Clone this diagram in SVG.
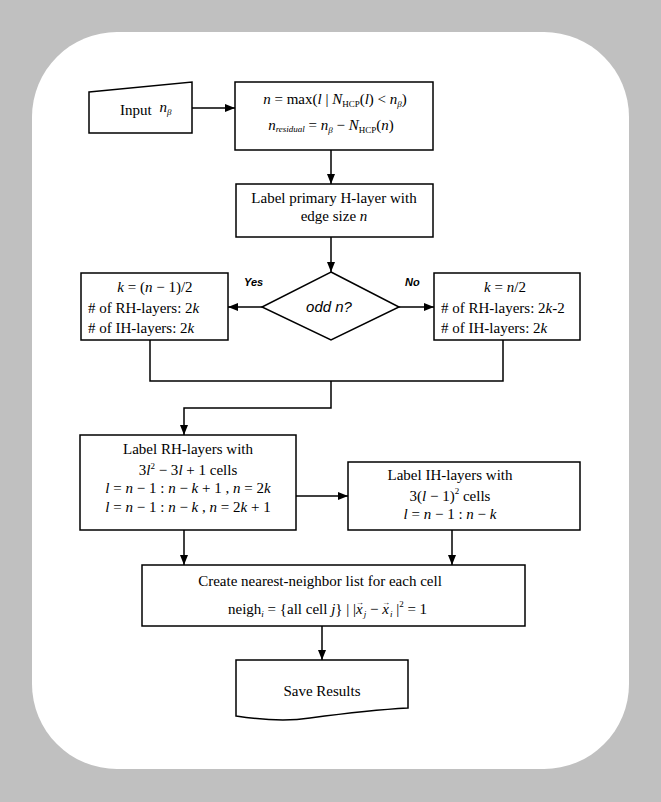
<svg xmlns="http://www.w3.org/2000/svg" width="661" height="802" viewBox="0 0 661 802">
<defs>
<marker id="ah" viewBox="0 0 10 8" refX="10" refY="4" markerWidth="10" markerHeight="8" markerUnits="userSpaceOnUse" orient="auto"><path d="M0,0 L10,4 L0,8 z" fill="#000"/></marker>
<style>
.box{fill:#fff;stroke:#000;stroke-width:1.5}
.t{font-family:"Liberation Serif","Times New Roman",serif;font-size:15px;fill:#000}
.i{font-style:italic}
.s{font-size:9px}
.v{font-size:8px;font-style:normal}
.lbl{font-family:"Liberation Sans",Arial,sans-serif;font-size:11px;font-weight:bold;font-style:italic;fill:#000}
.c{fill:none;stroke:#000;stroke-width:1.5}
</style>
</defs>
<rect x="0" y="0" width="661" height="802" fill="#c0c0c0"/>
<rect x="32" y="32" width="597" height="737" rx="85" ry="85" fill="#fff"/>

<g id="connectors">
<path class="c" d="M192,108 H235" marker-end="url(#ah)"/>
<path class="c" d="M331,150 V184" marker-end="url(#ah)"/>
<path class="c" d="M331,237 V272" marker-end="url(#ah)"/>
<path class="c" d="M262,307 H228" marker-end="url(#ah)"/>
<path class="c" d="M399,307 H434" marker-end="url(#ah)"/>
<path class="c" d="M150,340 V381 H503 V340"/>
<path class="c" d="M331,381 V408 H184 V435" marker-end="url(#ah)"/>
<path class="c" d="M296,496 H348" marker-end="url(#ah)"/>
<path class="c" d="M184,530 V565" marker-end="url(#ah)"/>
<path class="c" d="M452,530 V565" marker-end="url(#ah)"/>
<path class="c" d="M322,626 V660" marker-end="url(#ah)"/>
<text class="lbl" x="244" y="286">Yes</text>
<text class="lbl" x="405" y="286">No</text>
</g>

<g id="input">
<polygon class="box" points="89,92 192,82 192,133 89,133"/>
<text class="t" x="120" y="115" font-size="16">Input <tspan class="i" dx="4" dy="-3">n</tspan><tspan class="s i" dy="3">β</tspan></text>
</g>

<g id="compute-n">
<rect class="box" x="235" y="82" width="198" height="68"/>
<text class="t" x="335" y="104" text-anchor="middle"><tspan class="i">n</tspan> = max(<tspan class="i">l</tspan> | <tspan class="i">N</tspan><tspan class="s" dy="3">HCP</tspan><tspan dy="-3">(</tspan><tspan class="i">l</tspan>) &lt; <tspan class="i">n</tspan><tspan class="s i" dy="3">β</tspan><tspan dy="-3">)</tspan></text>
<text class="t" x="331" y="130" text-anchor="middle"><tspan class="i">n</tspan><tspan class="s i" dy="2">residual</tspan><tspan dy="-2"> = </tspan><tspan class="i">n</tspan><tspan class="s i" dy="3">β</tspan><tspan dy="-3"> − </tspan><tspan class="i">N</tspan><tspan class="s" dy="3">HCP</tspan><tspan dy="-3">(</tspan><tspan class="i">n</tspan>)</text>
</g>

<g id="label-primary">
<rect class="box" x="236" y="184" width="197" height="53"/>
<text class="t" x="334" y="203" text-anchor="middle">Label primary H-layer with</text>
<text class="t" x="334" y="221" text-anchor="middle">edge size <tspan class="i">n</tspan></text>
</g>

<g id="decision">
<polygon class="box" points="331,272 399,307 331,340 262,307"/>
<text x="329" y="312" text-anchor="middle" font-family="Liberation Sans, Arial, sans-serif" font-size="15" font-style="italic">odd n?</text>
</g>

<g id="odd-branch">
<rect class="box" x="81" y="273" width="147" height="67"/>
<text class="t" x="155" y="292" text-anchor="middle"><tspan class="i">k</tspan> = (<tspan class="i">n</tspan> − 1)/2</text>
<text class="t" x="88" y="313"># of RH-layers:  2<tspan class="i">k</tspan></text>
<text class="t" x="88" y="333"># of IH-layers:  2<tspan class="i">k</tspan></text>
</g>

<g id="even-branch">
<rect class="box" x="434" y="273" width="146" height="67"/>
<text class="t" x="505" y="292" text-anchor="middle"><tspan class="i">k</tspan> = <tspan class="i">n</tspan>/2</text>
<text class="t" x="441" y="313"># of RH-layers:  2<tspan class="i">k</tspan>-2</text>
<text class="t" x="441" y="333"># of IH-layers:  2<tspan class="i">k</tspan></text>
</g>

<g id="label-rh">
<rect class="box" x="80" y="435" width="216" height="95"/>
<text class="t" x="188" y="454" text-anchor="middle">Label RH-layers with</text>
<text class="t" x="188" y="475" text-anchor="middle">3<tspan class="i">l</tspan><tspan class="s" dy="-6">2</tspan><tspan dy="6"> − 3</tspan><tspan class="i">l</tspan> + 1  cells</text>
<text class="t" x="188" y="493" text-anchor="middle"><tspan class="i">l</tspan> = <tspan class="i">n</tspan> − 1 : <tspan class="i">n</tspan> − <tspan class="i">k</tspan> + 1 , <tspan class="i">n</tspan> = 2<tspan class="i">k</tspan></text>
<text class="t" x="188" y="512" text-anchor="middle"><tspan class="i">l</tspan> = <tspan class="i">n</tspan> − 1 : <tspan class="i">n</tspan> − <tspan class="i">k</tspan> , <tspan class="i">n</tspan> = 2<tspan class="i">k</tspan> + 1</text>
</g>

<g id="label-ih">
<rect class="box" x="348" y="462" width="232" height="68"/>
<text class="t" x="450" y="480" text-anchor="middle">Label IH-layers with</text>
<text class="t" x="450" y="501" text-anchor="middle">3(<tspan class="i">l</tspan> − 1)<tspan class="s" dy="-7">2</tspan><tspan dy="7">  cells</tspan></text>
<text class="t" x="450" y="519" text-anchor="middle"><tspan class="i">l</tspan> = <tspan class="i">n</tspan> − 1 : <tspan class="i">n</tspan> − <tspan class="i">k</tspan></text>
</g>

<g id="neighbor-list">
<rect class="box" x="142" y="565" width="383" height="61"/>
<text class="t" x="320" y="586" text-anchor="middle">Create nearest-neighbor list for each cell</text>
<text class="t" x="228" y="614">neigh<tspan class="s i" dy="3">i</tspan><tspan dy="-3"> = {all cell </tspan><tspan class="i">j</tspan>} | |<tspan class="i">x</tspan><tspan class="v" dx="-7" dy="-9">→</tspan><tspan class="s i" dy="12">j</tspan><tspan dy="-3"> − </tspan><tspan class="i">x</tspan><tspan class="v" dx="-7" dy="-9">→</tspan><tspan class="s i" dy="12">i</tspan><tspan dy="-3"> |</tspan><tspan class="s" dy="-7">2</tspan><tspan dy="7"> = 1</tspan></text>
</g>

<g id="save-results">
<path class="box" d="M236,660 H408 V708 C370,710 340,714 310,718 C285,722 262,720 236,716 Z"/>
<text class="t" x="322" y="696" text-anchor="middle">Save Results</text>
</g>
</svg>
